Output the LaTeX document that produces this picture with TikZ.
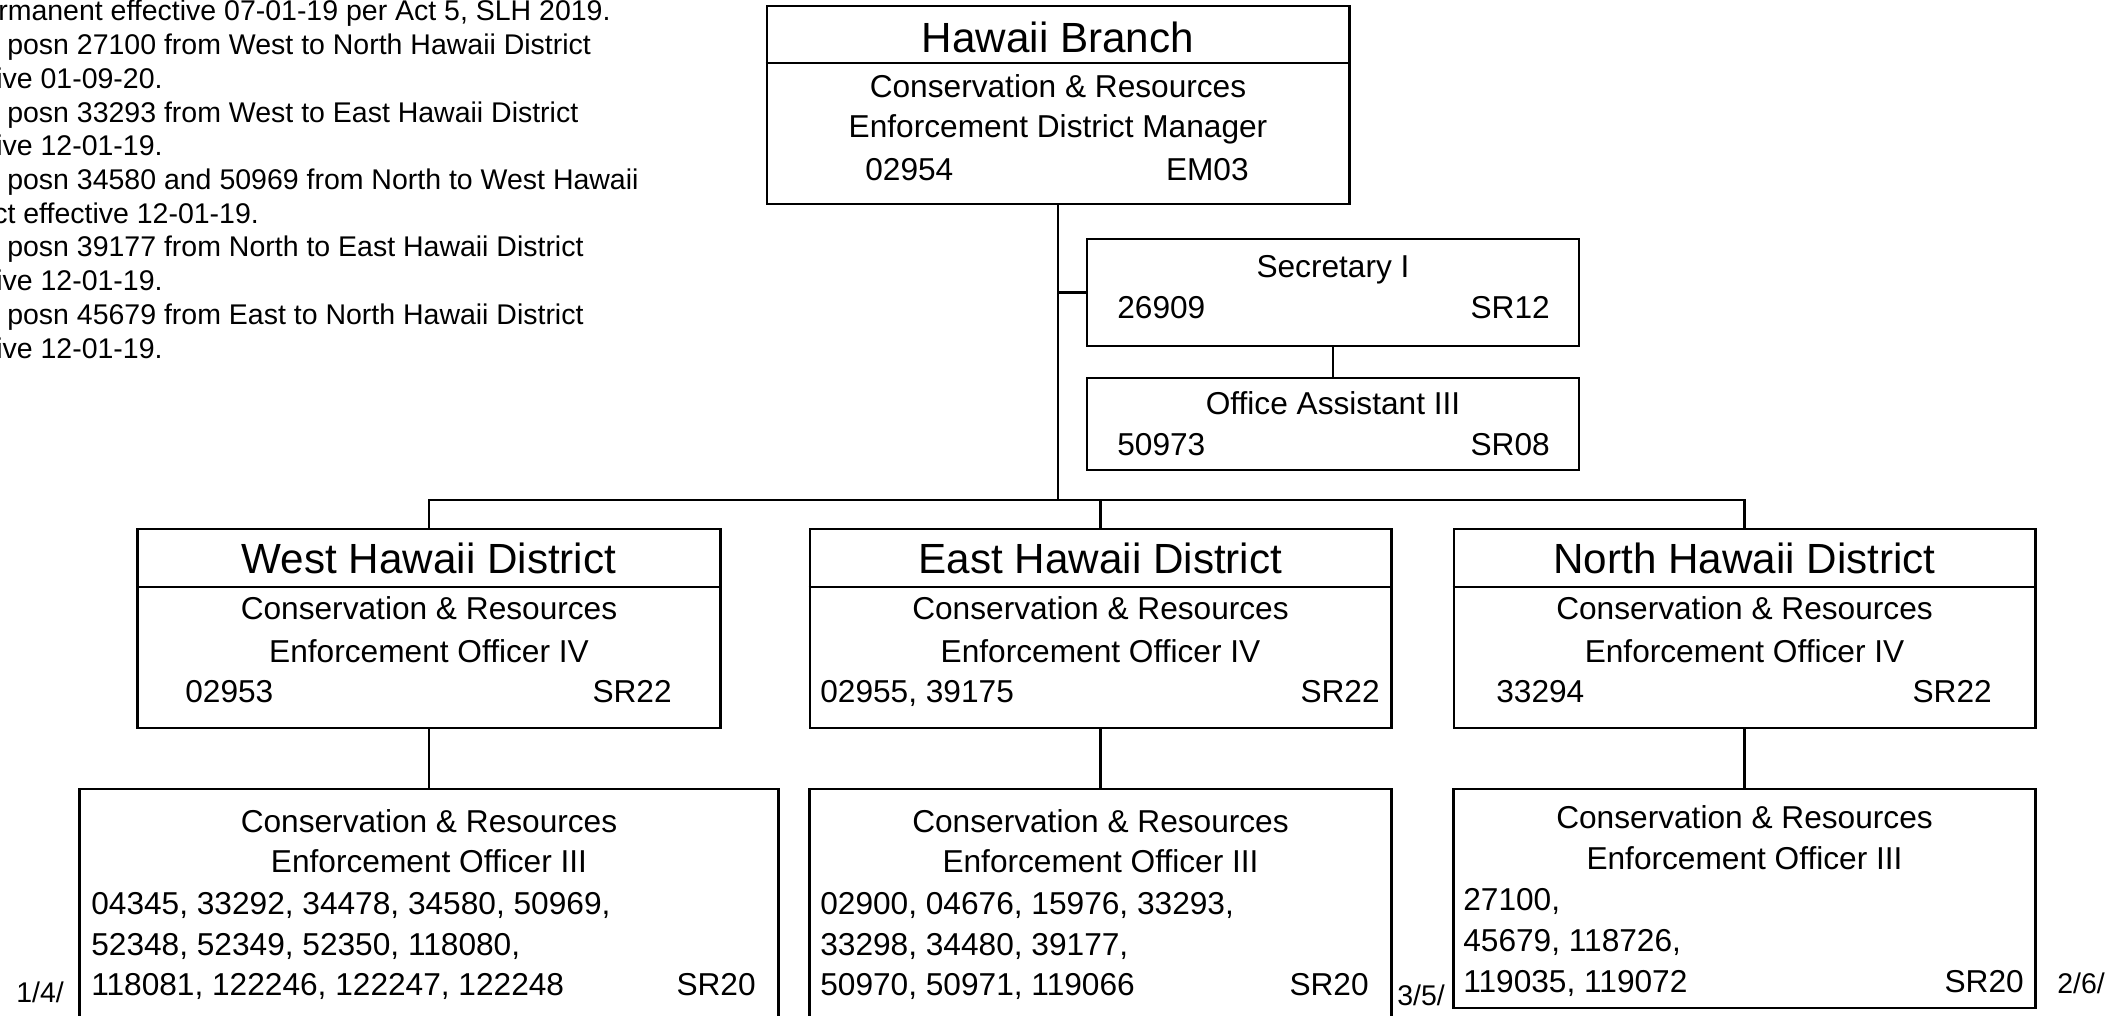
\documentclass[tikz,border=0pt]{standalone}
\usepackage{fontspec}
\setmainfont{Liberation Sans}

\begin{document}
\begin{tikzpicture}[x=0.01cm, y=-0.01cm, line width=0.75pt,
    box/.style = {draw, rectangle, inner sep=0pt},
    head/.style = {font=\fontsize{12}{14}\selectfont, inner sep=0pt, anchor=base},
    txt/.style = {font=\fontsize{9}{11}\selectfont, inner sep=0pt, anchor=base},
    lft/.style = {txt, anchor=base west},
    rgt/.style = {txt, anchor=base east},
    note/.style = {font=\fontsize{8.1}{9.7}\selectfont, inner sep=0pt, anchor=base west}]
    \useasboundingbox (0,0) rectangle (2113,1015);

    % notes, cut at the left edge
    \node[note] (n1) at (-3,21) {rmanent effective 07-01-19 per Act 5, SLH 2019.};
    \node[note] (n2) at (6,54.7) {posn 27100 from West to North Hawaii District};
    \node[note] (n3) at (-5,88.4) {ive 01-09-20.};
    \node[note] (n4) at (6,122.1) {posn 33293 from West to East Hawaii District};
    \node[note] (n5) at (-5,155.8) {ive 12-01-19.};
    \node[note] (n6) at (6,189.5) {posn 34580 and 50969 from North to West Hawaii};
    \node[note] (n7) at (-8,223.2) {ct effective 12-01-19.};
    \node[note] (n8) at (6,256.9) {posn 39177 from North to East Hawaii District};
    \node[note] (n9) at (-5,290.6) {ive 12-01-19.};
    \node[note] (n10) at (6,324.3) {posn 45679 from East to North Hawaii District};
    \node[note] (n11) at (-5,358) {ive 12-01-19.};

    % boxes
    \node[box, minimum width=5.82cm, minimum height=1.98cm] (branch) at (1058,105) {};
    \node[box, minimum width=4.92cm, minimum height=1.07cm] (sec) at (1333,292.5) {};
    \node[box, minimum width=4.92cm, minimum height=0.92cm] (oa) at (1333,424) {};
    \node[box, minimum width=5.83cm, minimum height=1.99cm] (west) at (429,628.5) {};
    \node[box, minimum width=5.81cm, minimum height=1.99cm] (east) at (1100.5,628.5) {};
    \node[box, minimum width=5.81cm, minimum height=1.99cm] (north) at (1744.5,628.5) {};
    \node[box, minimum width=6.98cm, minimum height=2.36cm] (westlow) at (429,907) {};
    \node[box, minimum width=5.82cm, minimum height=2.36cm] (eastlow) at (1100.5,907) {};
    \node[box, minimum width=5.82cm, minimum height=2.19cm] (northlow) at (1744.5,898.5) {};

    \draw (branch.west |- 0,63) -- (branch.east |- 0,63);
    \foreach \d in {west,east,north}
        \draw (\d.west |- 0,587) -- (\d.east |- 0,587);

    % lines
    \coordinate (bus) at (branch.south |- 0,500);
    \draw (branch.south) -- (bus);
    \draw (branch.south |- sec.west) -- (sec.west);
    \draw (sec) -- (oa);
    \draw (west.north) |- (bus) -| (north.north);
    \draw (east.north) -- (east.north |- bus);
    \draw (west) -- (westlow);
    \draw (east) -- (eastlow);
    \draw (north) -- (northlow);

    % branch
    \node[head] (brhead) at (1058,52) {Hawaii Branch};
    \node[txt] (brl1) at (1058,97) {Conservation \& Resources};
    \node[txt] (brl2) at (1058,137) {Enforcement District Manager};
    \node[lft] (brpos) at (864,180) {02954};
    \node[rgt] (brsr) at (1250,180) {EM03};

    \node[txt] (secl1) at (1333,277) {Secretary I};
    \node[lft] (secpos) at (1116,318) {26909};
    \node[rgt] (secsr) at (1551,318) {SR12};

    \node[txt] (oal1) at (1333,414) {Office Assistant III};
    \node[lft] (oapos) at (1116,455) {50973};
    \node[rgt] (oasr) at (1551,455) {SR08};

    % districts
    \node[head] (whead) at (429,573) {West Hawaii District};
    \node[txt] (wl1) at (429,619) {Conservation \& Resources};
    \node[txt] (wl2) at (429,662) {Enforcement Officer IV};
    \node[lft] (wpos) at (184,702) {02953};
    \node[rgt] (wsr) at (673,702) {SR22};

    \node[head] (ehead) at (1100.5,573) {East Hawaii District};
    \node[txt] (el1) at (1100.5,619) {Conservation \& Resources};
    \node[txt] (el2) at (1100.5,662) {Enforcement Officer IV};
    \node[lft] (epos) at (819,702) {02955, 39175};
    \node[rgt] (esr) at (1381,702) {SR22};

    \node[head] (nhead) at (1744.5,573) {North Hawaii District};
    \node[txt] (nl1) at (1744.5,619) {Conservation \& Resources};
    \node[txt] (nl2) at (1744.5,662) {Enforcement Officer IV};
    \node[lft] (npos) at (1495,702) {33294};
    \node[rgt] (nsr) at (1993,702) {SR22};

    % officers III
    \node[txt] (wol1) at (429,832) {Conservation \& Resources};
    \node[txt] (wol2) at (429,872) {Enforcement Officer III};
    \node[lft] (wop1) at (90,914) {04345, 33292, 34478, 34580, 50969,};
    \node[lft] (wop2) at (90,955) {52348, 52349, 52350, 118080,};
    \node[lft] (wop3) at (90,995) {118081, 122246, 122247, 122248};
    \node[rgt] (wosr) at (757,995) {SR20};

    \node[txt] (eol1) at (1100.5,832) {Conservation \& Resources};
    \node[txt] (eol2) at (1100.5,872) {Enforcement Officer III};
    \node[lft] (eop1) at (819,914) {02900, 04676, 15976, 33293,};
    \node[lft] (eop2) at (819,955) {33298, 34480, 39177,};
    \node[lft] (eop3) at (819,995) {50970, 50971, 119066};
    \node[rgt] (eosr) at (1370,995) {SR20};

    \node[txt] (nol1) at (1744.5,828) {Conservation \& Resources};
    \node[txt] (nol2) at (1744.5,869) {Enforcement Officer III};
    \node[lft] (nop1) at (1462,910) {27100,};
    \node[lft] (nop2) at (1462,951) {45679, 118726,};
    \node[lft] (nop3) at (1462,992) {119035, 119072};
    \node[rgt] (nosr) at (2025,992) {SR20};

    \node[note] (f1) at (15,1002) {1/4/};
    \node[note] (f2) at (1396,1005) {3/5/};
    \node[note] (f3) at (2056,993) {2/6/};
\end{tikzpicture}
\end{document}
